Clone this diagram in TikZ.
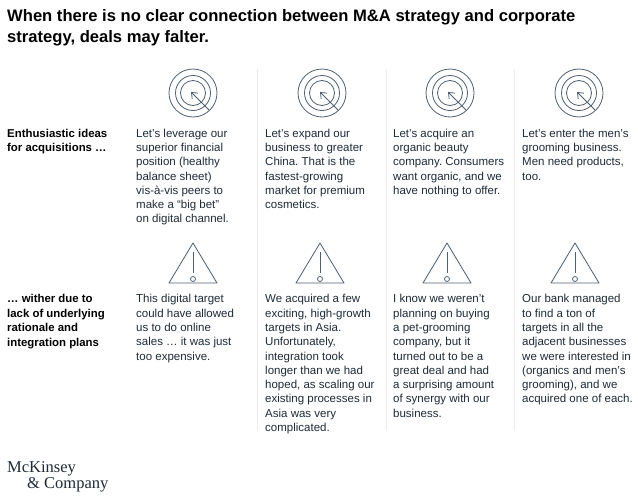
\documentclass[tikz,border=0pt]{standalone}
\usepackage{fontspec}
\setmainfont{Liberation Sans}
\newfontfamily\logofont{Liberation Serif}
\usepackage{xcolor}
\usetikzlibrary{arrows.meta}
\frenchspacing
\definecolor{customink}{HTML}{1f2a36}
\definecolor{customicon}{HTML}{4f5f6e}
\definecolor{customrule}{HTML}{ececec}
\tikzset{
  titletext/.style = {anchor = north west, align = left, inner sep = 0pt, text = black, font = \fontsize{16.6}{21}\selectfont\bfseries},
  sidetext/.style = {anchor = north west, align = left, inner sep = 0pt, text = black, font = \fontsize{11.4}{14.5}\selectfont\bfseries},
  bodytext/.style = {anchor = north west, align = left, inner sep = 0pt, text = customink, font = \fontsize{11.5}{14.3}\selectfont},
  logotext/.style = {anchor = north west, align = left, inner sep = 0pt, text = customink, font = \logofont\fontsize{16.5}{16.5}\selectfont},
  iconline/.style = {draw = customicon, line width = 0.8pt},
  divider/.style = {draw = customrule, line width = 0.8pt}
}
\begin{document}
\begin{tikzpicture}[x = 1pt, y = 1pt]
        \useasboundingbox (0pt, 0pt) rectangle (638pt, -503pt);

        % Dividers
        \foreach \name/\x in {a/257, b/386, c/514} {
            \coordinate (top\name) at (\x pt, -69pt);
            \coordinate (bot\name) at (\x pt, -431pt);
            \draw [divider] (top\name) -- (bot\name);
        }

        % Targets
        \foreach \name/\x in {a/193, b/322, c/450, d/579} {
            \node [iconline, circle, minimum size = 48pt, inner sep = 0pt] (ring\name) at (\x pt, -93pt) {};
            \node [iconline, circle, minimum size = 35pt, inner sep = 0pt] (mid\name) at (\x pt, -93pt) {};
            \node [iconline, circle, minimum size = 25pt, inner sep = 0pt] (core\name) at (\x pt, -93pt) {};
            \coordinate (tail\name) at (\x pt + 16pt, -110pt);
            \coordinate (tip\name) at (\x pt - 2pt, -92pt);
            \draw [iconline, -{Straight Barb[length = 5pt, width = 8pt]}] (tail\name) -- (tip\name);
        }

        % Warnings
        \foreach \name/\x in {a/193, b/320, c/447, d/575} {
            \coordinate (apex\name) at (\x pt, -243pt);
            \coordinate (left\name) at (\x pt - 24pt, -283pt);
            \coordinate (right\name) at (\x pt + 24pt, -283pt);
            \draw [iconline, line join = round] (apex\name) -- (left\name) -- (right\name) -- cycle;
            \coordinate (bar\name) at (\x pt, -252pt);
            \node [iconline, circle, minimum size = 5pt, inner sep = 0pt] (dot\name) at (\x pt, -279pt) {};
            \draw [iconline] (bar\name) -- +(0pt, -21pt);
        }

        % Title
        \node [titletext] (title) at (7pt, -9pt) {When there is no clear connection between M\&A strategy and corporate\\strategy, deals may falter.};

        % Row labels
        \node [sidetext] (ideas) at (7pt, -128.7pt) {Enthusiastic ideas\\for acquisitions \dots};
        \node [sidetext] (wither) at (7pt, -294.3pt) {\dots\ wither due to\\lack of underlying\\rationale and\\integration plans};

        % Upper row
        \node [bodytext] (ideaa) at (136pt, -128.6pt) {Let’s leverage our\\superior financial\\position (healthy\\balance sheet)\\vis-à-vis peers to\\make a “big bet”\\on digital channel.};
        \node [bodytext] (ideab) at (265pt, -128.6pt) {Let’s expand our\\business to greater\\China. That is the\\fastest-growing\\market for premium\\cosmetics.};
        \node [bodytext] (ideac) at (393pt, -128.6pt) {Let’s acquire an\\organic beauty\\company. Consumers\\want organic, and we\\have nothing to offer.};
        \node [bodytext] (idead) at (522pt, -128.6pt) {Let’s enter the men’s\\grooming business.\\Men need products,\\too.};

        % Lower row
        \node [bodytext] (rsna) at (136pt, -294.3pt) {This digital target\\could have allowed\\us to do online\\sales \dots\ it was just\\too expensive.};
        \node [bodytext] (rsnb) at (265pt, -294.3pt) {We acquired a few\\exciting, high-growth\\targets in Asia.\\Unfortunately,\\integration took\\longer than we had\\hoped, as scaling our\\existing processes in\\Asia was very\\complicated.};
        \node [bodytext] (rsnc) at (393pt, -294.3pt) {I know we weren’t\\planning on buying\\a pet-grooming\\company, but it\\turned out to be a\\great deal and had\\a surprising amount\\of synergy with our\\business.};
        \node [bodytext] (rsnd) at (522pt, -294.3pt) {Our bank managed\\to find a ton of\\targets in all the\\adjacent businesses\\we were interested in\\(organics and men’s\\grooming), and we\\acquired one of each.};

        % Logo
        \node [logotext] (logoa) at (7pt, -461pt) {McKinsey};
        \node [logotext] (logob) at (27pt, -477pt) {\&\ Company};

    \end{tikzpicture}
\end{document}
